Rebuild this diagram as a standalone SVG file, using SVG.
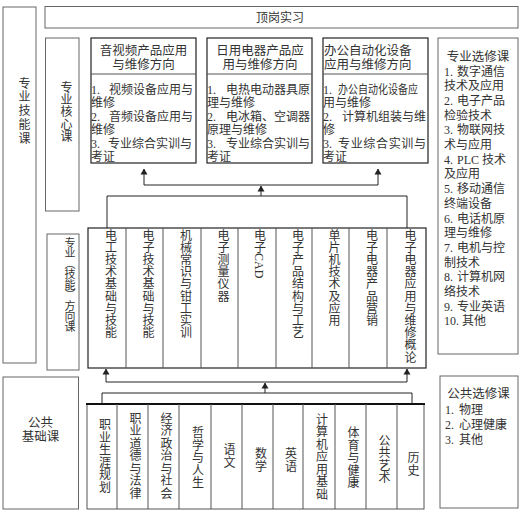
<svg xmlns="http://www.w3.org/2000/svg" width="520" height="512" viewBox="0 0 520 512">
<style>
text{font-family:"Liberation Serif","Noto Sans CJK SC",serif;fill:#333;font-size:12px}
.box{fill:none;stroke:#666;stroke-width:1}
.dbox{fill:none;stroke:#222;stroke-width:1.2}
.div{fill:none;stroke:#555;stroke-width:1}
.v{writing-mode:vertical-rl;font-size:12px}
.vn{font-family:"Noto Sans CJK SC",sans-serif}
.vc{writing-mode:vertical-rl;font-size:12px;text-anchor:middle;letter-spacing:0.5px}
.mid{text-anchor:middle}
.con{fill:none;stroke:#222;stroke-width:1}
.arr{fill:none;stroke:#222;stroke-width:1;marker-end:url(#ah)}
</style>
<defs>
<marker id="ah" viewBox="0 0 6 10" refX="5.5" refY="5" markerWidth="6" markerHeight="10" markerUnits="userSpaceOnUse" orient="auto">
<path d="M0,1.5 L6,5 L0,8.5 Z" fill="#222"/>
</marker>
</defs>
<rect width="520" height="512" fill="#fff"/>

<g id="zyjnk">
<rect class="box" x="3" y="7" width="33" height="356"/>
<text class="v" x="23" y="77" style="letter-spacing:1.8px">专业技能课</text>
</g>

<g id="dgsx">
<rect class="box" x="45" y="6.5" width="473" height="21.5"/>
<text class="mid" x="280" y="21.5">顶岗实习</text>
</g>

<g id="zyhxk">
<rect class="box" x="45.5" y="38" width="33.5" height="173"/>
<text class="v" x="65" y="81" style="letter-spacing:0.4px">专业核心课</text>
</g>

<g id="core1">
<rect class="dbox" x="91" y="38" width="105" height="125"/>
<line class="div" x1="91" y1="74" x2="196" y2="74"/>
<text class="mid" x="143.5" y="55" style="font-size:12.5px">音视频产品应用</text>
<text class="mid" x="143.5" y="69" style="font-size:12.5px">与维修方向</text>
<text x="91" y="94">1.<tspan x="109">视频设备应用与</tspan></text>
<text x="91" y="107">维修</text>
<text x="91" y="121">2.<tspan x="109">音频设备应用与</tspan></text>
<text x="91" y="134">维修</text>
<text x="91" y="148">3.<tspan x="108">专业综合实训与</tspan></text>
<text x="91" y="161">考证</text>
</g>

<g id="core2">
<rect class="dbox" x="207" y="38" width="105" height="125"/>
<line class="div" x1="207" y1="74" x2="312" y2="74"/>
<text class="mid" x="260" y="55" style="font-size:12.5px">日用电器产品应</text>
<text class="mid" x="260" y="69" style="font-size:12.5px">用与维修方向</text>
<text x="207" y="94">1.<tspan x="226">电热电动器具原</tspan></text>
<text x="207" y="107">理与维修</text>
<text x="207" y="121">2.<tspan x="226">电冰箱、空调器</tspan></text>
<text x="207" y="134">原理与维修</text>
<text x="207" y="148">3.<tspan x="226">专业综合实训与</tspan></text>
<text x="207" y="161">考证</text>
</g>

<g id="core3">
<rect class="dbox" x="323" y="38" width="105" height="125"/>
<line class="div" x1="323" y1="74" x2="428" y2="74"/>
<text x="324" y="55" style="font-size:12.5px">办公自动化设备</text>
<text x="324" y="69" style="font-size:12.5px">应用与维修方向</text>
<text x="323" y="94">1.<tspan x="338" textLength="80" lengthAdjust="spacingAndGlyphs">办公自动化设备应</tspan></text>
<text x="323" y="107">用与维修</text>
<text x="323" y="121">2.<tspan x="342">计算机组装与维</tspan></text>
<text x="323" y="134">修</text>
<text x="323" y="148">3.<tspan x="338" textLength="88">专业综合实训与</tspan></text>
<text x="323" y="161">考证</text>
</g>

<g id="zyxxk">
<rect class="box" x="438" y="38" width="80" height="316"/>
<text class="mid" x="478" y="60.5" style="font-size:12.5px">专业选修课</text>
<text x="444" y="75.5">1.<tspan x="457">数字通信</tspan></text>
<text x="444" y="90.2">技术及应用</text>
<text x="444" y="104.9">2.<tspan x="457">电子产品</tspan></text>
<text x="444" y="119.6">检验技术</text>
<text x="444" y="134.3">3.<tspan x="457">物联网技</tspan></text>
<text x="444" y="149">术与应用</text>
<text x="444" y="163.7">4.<tspan x="457">PLC 技术</tspan></text>
<text x="444" y="178.4">及应用</text>
<text x="444" y="193.1">5.<tspan x="457">移动通信</tspan></text>
<text x="444" y="207.8">终端设备</text>
<text x="444" y="222.5">6.<tspan x="457">电话机原</tspan></text>
<text x="444" y="237.2">理与维修</text>
<text x="444" y="251.9">7.<tspan x="457">电机与控</tspan></text>
<text x="444" y="266.6">制技术</text>
<text x="444" y="281.3">8.<tspan x="457">计算机网</tspan></text>
<text x="444" y="296">络技术</text>
<text x="444" y="310.7">9.<tspan x="457">专业英语</tspan></text>
<text x="444" y="325.4">10.<tspan x="462">其他</tspan></text>
</g>

<g id="zyfxk">
<rect class="box" x="47" y="234" width="32" height="136"/>
<text class="v vn" x="70" y="237" style="font-size:11px;letter-spacing:-0.5px">专业（技能）方向课</text>
</g>

<g id="fxrow">
<rect class="dbox" x="88" y="228" width="338" height="140"/>
<path class="div" d="M126 228V368M163 228V368M201 228V368M238 228V368M276 228V368M312 228V368M349 228V368M387 228V368"/>
<text class="v" x="109.5" y="229" style="letter-spacing:0.2px">电工技术基础与技能</text>
<text class="v" x="147" y="229" style="letter-spacing:0.2px">电子技术基础与技能</text>
<text class="v" x="184.5" y="229" style="letter-spacing:0.2px">机械常识与钳工实训</text>
<text class="v" x="222" y="229" style="letter-spacing:0.2px">电子测量仪器</text>
<text class="v" x="258.5" y="229">电子CAD</text>
<text class="v" x="296.5" y="229" style="letter-spacing:0.2px">电子产品结构与工艺</text>
<text class="v" x="333" y="229" style="letter-spacing:0.2px">单片机技术及应用</text>
<text class="v" x="370.5" y="229" style="letter-spacing:0.2px">电子电器产品营销</text>
<text class="v" x="409" y="229" style="letter-spacing:0.2px">电子电器应用与维修概论</text>
</g>

<g id="ggjck">
<rect class="box" x="3" y="377" width="75.5" height="132"/>
<text class="mid" x="40.5" y="426.5" style="font-size:12.5px">公共</text>
<text class="mid" x="40.5" y="440.5" style="font-size:12.5px">基础课</text>
</g>

<g id="ggrow">
<rect class="div" x="87" y="404" width="337" height="105"/>
<line x1="86" y1="404" x2="425" y2="404" stroke="#111" stroke-width="2.2"/>
<path class="div" d="M117 404V509M148 404V509M179 404V509M211 404V509M242 404V509M273 404V509M303 404V509M335 404V509M366 404V509M397 404V509"/>
<text class="vc" x="103.5" y="456">职业生涯规划</text>
<text class="vc" x="134" y="456">职业道德与法律</text>
<text class="vc" x="165" y="456">经济政治与社会</text>
<text class="vc" x="196.5" y="458">哲学与人生</text>
<text class="vc" x="228" y="456">语文</text>
<text class="vc" x="259.5" y="460">数学</text>
<text class="vc" x="289.5" y="460">英语</text>
<text class="vc" x="320.5" y="457">计算机应用基础</text>
<text class="vc" x="352" y="458">体育与健康</text>
<text class="vc" x="383" y="459">公共艺术</text>
<text class="vc" x="412" y="464">历史</text>
</g>

<g id="ggxxk">
<rect class="box" x="440" y="376" width="78" height="132"/>
<text class="mid" x="478.5" y="397.5" style="font-size:12.5px">公共选修课</text>
<text x="445" y="413.5">1.<tspan x="459">物理</tspan></text>
<text x="445" y="428.5">2.<tspan x="459">心理健康</tspan></text>
<text x="445" y="443.5">3.<tspan x="459">其他</tspan></text>
</g>

<g id="connectors">
<path class="con" d="M144 185H378"/>
<path class="arr" d="M144 185V169"/>
<path class="arr" d="M378 185V169"/>
<path class="con" d="M107 228V196H407V228"/>
<path class="arr" d="M261 196V186"/>
<path class="con" d="M106 382H407"/>
<path class="arr" d="M106 382V369"/>
<path class="arr" d="M407 382V369"/>
<path class="con" d="M102 404V393H412V404"/>
<path class="arr" d="M265 393V383"/>
</g>
</svg>
